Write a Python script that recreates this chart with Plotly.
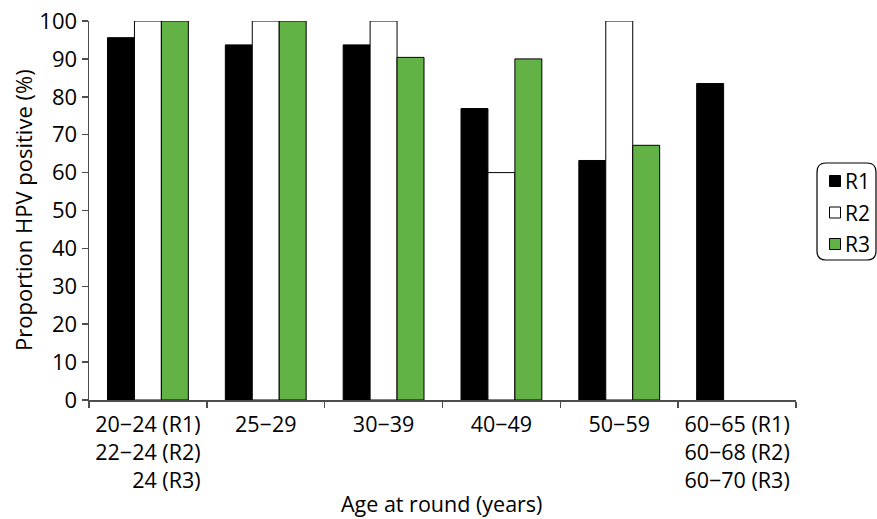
import plotly.graph_objects as go

categories = [
    "20\u221224 (R1)<br>22\u221224 (R2)<br>\u2007\u2007\u200724 (R3)",
    "25\u221229",
    "30\u221239",
    "40\u221249",
    "50\u221259",
    "60\u221265 (R1)<br>60\u221268 (R2)<br>60\u221270 (R3)",
]
r1 = [95.6, 93.7, 93.7, 76.9, 63.2, 83.5]
r2 = [100, 100, 100, 60.0, 100, None]
r3 = [100, 100, 90.4, 90.0, 67.2, None]
series_names = ["R1", "R2", "R3"]
series_colors = ["#000000", "#ffffff", "#62b246"]
y_ticks = [0, 10, 20, 30, 40, 50, 60, 70, 80, 90, 100]

FONT = "Open Sans"
W, H = 877, 519
L, R, T, B = 89, 81, 21, 119
PW, PH = W - L - R, H - T - B


def px2x(px):
    return (px - L) / PW


def py2y(py):
    return (H - B - py) / PH


fig = go.Figure()
for name, vals, col in zip(series_names, [r1, r2, r3], series_colors):
    fig.add_trace(go.Bar(
        x=categories, y=vals, name=name,
        marker=dict(color=col, line=dict(color="#000000", width=1)),
        showlegend=False,
    ))

fig.update_layout(
    width=W, height=H,
    margin=dict(l=L, r=R, t=T, b=B, autoexpand=False),
    paper_bgcolor="white", plot_bgcolor="white",
    barmode="group", bargap=0.314, bargroupgap=0,
    font=dict(family=FONT, size=21, color="#000000"),
    hovermode=False,
)
fig.update_xaxes(
    showline=True, linecolor="#4d4d4d", linewidth=1.5,
    ticks="outside", tickson="boundaries", ticklen=6, tickcolor="#4d4d4d", tickwidth=1.5,
    showgrid=False, tickfont=dict(size=21.5), ticklabelstandoff=5, fixedrange=True,
)
fig.update_yaxes(
    range=[0, 100], tickvals=y_ticks,
    showline=True, linecolor="#4d4d4d", linewidth=1.5,
    ticks="outside", ticklen=6, tickcolor="#4d4d4d", tickwidth=1.5,
    showgrid=False, zeroline=False, tickfont=dict(size=22), fixedrange=True,
)

# axis titles
fig.add_annotation(text="Proportion HPV positive (%)", xref="paper", yref="paper",
                   x=px2x(23), y=py2y(210), textangle=-90, showarrow=False,
                   font=dict(size=22), xanchor="center", yanchor="middle")
fig.add_annotation(text="Age at round (years)", xref="paper", yref="paper",
                   x=px2x(441.5), y=py2y(504), showarrow=False,
                   font=dict(size=21.5), xanchor="center", yanchor="middle")

# legend (rounded box)
bx0, bx1, by0, by1, rad = 817, 876, 163, 260, 9
x0, x1 = px2x(bx0), px2x(bx1)
y0, y1 = py2y(by1), py2y(by0)
rx, ry = rad / PW, rad / PH
path = (f"M{x0+rx},{y1} L{x1-rx},{y1} Q{x1},{y1} {x1},{y1-ry} "
        f"L{x1},{y0+ry} Q{x1},{y0} {x1-rx},{y0} L{x0+rx},{y0} "
        f"Q{x0},{y0} {x0},{y0+ry} L{x0},{y1-ry} Q{x0},{y1} {x0+rx},{y1} Z")
fig.add_shape(type="path", path=path, xref="paper", yref="paper",
              line=dict(color="#000000", width=1.2), fillcolor="rgba(0,0,0,0)")
item_y = [181, 212.5, 244]
for name, col, cy in zip(series_names, series_colors, item_y):
    fig.add_shape(type="rect", xref="paper", yref="paper",
                  x0=px2x(829.5), x1=px2x(840.5), y0=py2y(cy + 5.5), y1=py2y(cy - 5.5),
                  fillcolor=col, line=dict(color="#000000", width=1))
    fig.add_annotation(text=name, xref="paper", yref="paper", x=px2x(843), y=py2y(cy),
                       showarrow=False, xanchor="left", yanchor="middle",
                       font=dict(size=21))

fig.write_html("out.html", config={"displayModeBar": False, "staticPlot": True})

# remove the default page margin so the figure sits at the window's corner
with open("out.html", "r", encoding="utf-8") as f:
    html = f.read()
html = html.replace("<head>", "<head><style>html,body{margin:0;padding:0;overflow:hidden;}</style>", 1)
with open("out.html", "w", encoding="utf-8") as f:
    f.write(html)
